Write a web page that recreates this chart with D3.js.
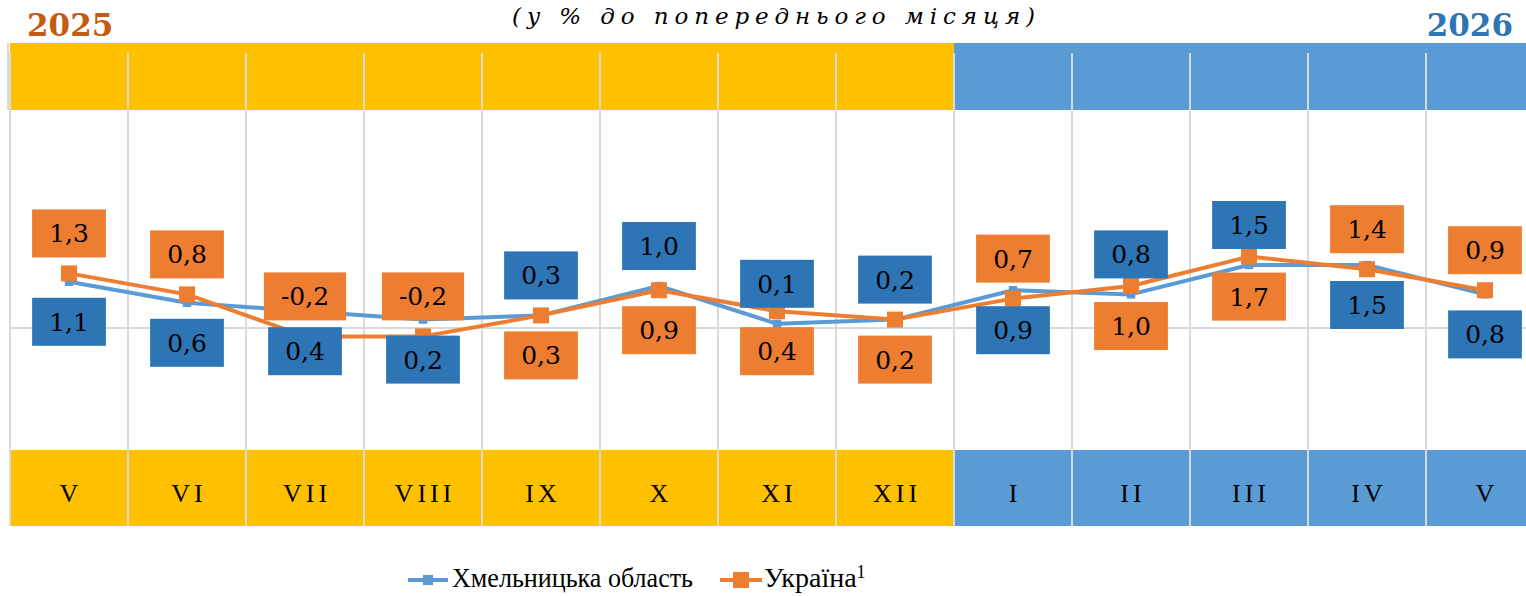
<!DOCTYPE html>
<html>
<head>
<meta charset="utf-8">
<script src="https://cdn.jsdelivr.net/npm/d3@7"></script>
<style>
  body { margin: 0; background: #fff; }
  svg { display: block; }
  .times { font-family: 'Liberation Serif', 'Times New Roman', serif; }
  .num { font-family: 'DejaVu Serif', serif; }
</style>
</head>
<body>
<div id="chart_div"></div>
<script>
// дані
var months = ["V", "VI", "VII", "VIII", "IX", "X", "XI", "XII", "I", "II", "III", "IV", "V"];
var years = [2025, 2025, 2025, 2025, 2025, 2025, 2025, 2025, 2026, 2026, 2026, 2026, 2026];
var khmelnytska = [1.1, 0.6, 0.4, 0.2, 0.3, 1.0, 0.1, 0.2, 0.9, 0.8, 1.5, 1.5, 0.8];
var ukraine = [1.3, 0.8, -0.2, -0.2, 0.3, 0.9, 0.4, 0.2, 0.7, 1.0, 1.7, 1.4, 0.9];
// чия підпис зверху (true - Україна зверху)
var ukraineLabelAbove = [true, true, true, true, false, false, false, false, true, false, false, true, true];
var seriesNames = ["Хмельницька область", "Україна"];
var title = "(у % до попереднього місяця)";

var all_width = 1526, all_height = 596;
var yellow = "#FFC000", blueBand = "#5B9BD5";
var blueLine = "#5B9BD5", blueBox = "#2E75B6", orange = "#ED7D31";
var grid = "#d9d9d9";

var svg = d3.select("#chart_div")
  .append("svg")
    .attr("width", all_width)
    .attr("height", all_height);

var idx = d3.range(months.length);
var x = d3.scaleBand()
  .domain(idx)
  .range([10, 1544])
  .padding(0);
var y = d3.scaleLinear()
  .domain([-3, 5])
  .range([454, 118]);

function cx(i) { return x(i) + x.bandwidth() / 2; }
function bandColor(i) { return years[i] === 2025 ? yellow : blueBand; }

// верхня смуга
svg.selectAll("topBand")
  .data(idx)
  .enter()
  .append("rect")
    .attr("x", function(i) { return x(i); })
    .attr("y", 43)
    .attr("width", x.bandwidth() + 1)
    .attr("height", 67)
    .style("fill", bandColor);

// нижня смуга з місяцями
svg.selectAll("bottomBand")
  .data(idx)
  .enter()
  .append("rect")
    .attr("x", function(i) { return x(i); })
    .attr("y", 450)
    .attr("width", x.bandwidth() + 1)
    .attr("height", 76)
    .style("fill", bandColor);

// вертикальна сітка
svg.selectAll("vGrid")
  .data(idx)
  .enter()
  .append("line")
    .attr("x1", function(i) { return x(i); })
    .attr("x2", function(i) { return x(i); })
    .attr("y1", 53)
    .attr("y2", 526)
    .attr("stroke", grid)
    .attr("stroke-width", 2);
svg.append("line")
  .attr("x1", 8).attr("x2", 8)
  .attr("y1", 43).attr("y2", 110)
  .attr("stroke", grid).attr("stroke-width", 2);

// нульова лінія
svg.append("line")
  .attr("x1", 10)
  .attr("x2", 1544)
  .attr("y1", y(0))
  .attr("y2", y(0))
  .attr("stroke", grid)
  .attr("stroke-width", 2);

// місяці
svg.selectAll("monthLabels")
  .data(idx)
  .enter()
  .append("text")
    .attr("class", "times")
    .attr("x", function(i) { return cx(i) + 2; })
    .attr("y", 502)
    .attr("text-anchor", "middle")
    .style("font-size", "26px")
    .style("letter-spacing", "4px")
    .text(function(i) { return months[i]; });

// лінії
var line = d3.line()
  .x(function(d, i) { return cx(i); })
  .y(function(d) { return y(d); });

svg.append("path")
  .datum(khmelnytska)
  .attr("d", line)
  .attr("fill", "none")
  .attr("stroke", blueLine)
  .attr("stroke-width", 4)
  .attr("stroke-linejoin", "round");

svg.selectAll("blueMarks")
  .data(khmelnytska)
  .enter()
  .append("path")
    .attr("d", d3.symbol().type(d3.symbolDiamond2).size(90))
    .attr("transform", function(d, i) { return "translate(" + cx(i) + "," + y(d) + ") rotate(45)"; })
    .style("fill", blueLine);

svg.append("path")
  .datum(ukraine)
  .attr("d", line)
  .attr("fill", "none")
  .attr("stroke", orange)
  .attr("stroke-width", 4)
  .attr("stroke-linejoin", "round");

svg.selectAll("orangeMarks")
  .data(ukraine)
  .enter()
  .append("rect")
    .attr("x", function(d, i) { return cx(i) - 8; })
    .attr("y", function(d) { return y(d) - 8; })
    .attr("width", 16)
    .attr("height", 16)
    .style("fill", orange);

// підписи значень
function fmt(v) { return v.toFixed(1).replace(".", ","); }

function addLabels(values, boxColor, aboveFn) {
  var g = svg.selectAll(null)
    .data(values)
    .enter()
    .append("g")
      .attr("transform", function(d, i) {
        var dy = aboveFn(i) ? -40 : 40;
        return "translate(" + cx(i) + "," + (y(d) + dy) + ")";
      });
  g.append("text")
    .attr("class", "num")
    .attr("text-anchor", "middle")
    .attr("dy", "0.36em")
    .style("font-size", "25px")
    .style("fill", "#000")
    .text(function(d) { return fmt(d); });
  g.insert("rect", "text")
    .attr("x", function() { var w = this.parentNode.querySelector("text").getComputedTextLength() + 34; return -w / 2; })
    .attr("y", -24)
    .attr("width", function() { return this.parentNode.querySelector("text").getComputedTextLength() + 34; })
    .attr("height", 48)
    .style("fill", boxColor);
}
addLabels(khmelnytska, blueBox, function(i) { return ukraineLabelAbove[i] === false; });
addLabels(ukraine, orange, function(i) { return ukraineLabelAbove[i]; });

// заголовок і роки
svg.append("text")
  .attr("class", "num")
  .attr("x", 512)
  .attr("y", 24)
  .attr("textLength", 523)
  .attr("lengthAdjust", "spacing")
  .style("font-style", "italic")
  .style("font-size", "23px")
  .text(title);

svg.append("text")
  .attr("class", "num")
  .attr("x", 27)
  .attr("y", 36)
  .style("font-weight", "bold")
  .style("font-size", "31px")
  .style("fill", "#C55A11")
  .text(years[0]);

svg.append("text")
  .attr("class", "num")
  .attr("x", 1513)
  .attr("y", 36)
  .attr("text-anchor", "end")
  .style("font-weight", "bold")
  .style("font-size", "31px")
  .style("fill", blueBox)
  .text(years[years.length - 1]);

// легенда
var legend = svg.append("g");
legend.append("line")
  .attr("x1", 408).attr("x2", 448).attr("y1", 580).attr("y2", 580)
  .attr("stroke", blueLine).attr("stroke-width", 4);
legend.append("path")
  .attr("d", d3.symbol().type(d3.symbolDiamond2).size(130))
  .attr("transform", "translate(428,580) rotate(45)")
  .style("fill", blueLine);
legend.append("text")
  .attr("class", "times")
  .attr("x", 452).attr("y", 587)
  .attr("textLength", 241)
  .attr("lengthAdjust", "spacingAndGlyphs")
  .style("font-size", "28px")
  .text(seriesNames[0]);

legend.append("line")
  .attr("x1", 720).attr("x2", 762).attr("y1", 580).attr("y2", 580)
  .attr("stroke", orange).attr("stroke-width", 4);
legend.append("rect")
  .attr("x", 733).attr("y", 572).attr("width", 16).attr("height", 16)
  .style("fill", orange);
var lt = legend.append("text")
  .attr("class", "times")
  .attr("x", 764).attr("y", 587)
  .style("font-size", "28px")
  .text(seriesNames[1]);
lt.append("tspan")
  .attr("dy", -9)
  .style("font-size", "18px")
  .text("1");
</script>
</body>
</html>
